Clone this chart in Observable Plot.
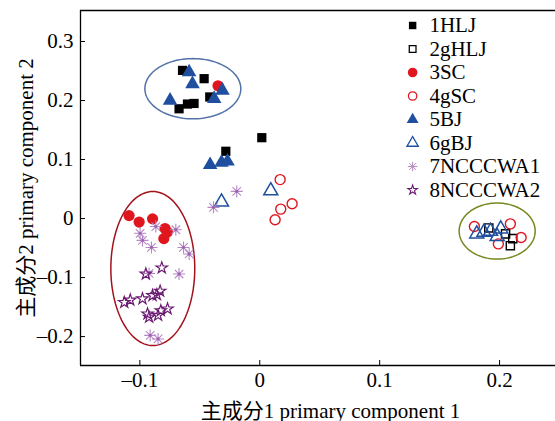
<!DOCTYPE html>
<html>
<head>
<meta charset="utf-8">
<script src="https://cdn.jsdelivr.net/npm/d3@7"></script>
<script src="https://cdn.jsdelivr.net/npm/@observablehq/plot@0.6"></script>
<style>
  html, body { margin: 0; padding: 0; background: #fff; }
  #chart svg, #chart svg text { font-family: "Liberation Serif", "Times New Roman", Times, "DejaVu Serif", "Noto Sans CJK SC", serif !important; }
</style>
</head>
<body>
<div id="chart"></div>
<script>
// ---- data (principal component scores) ----
const groups = ["1HLJ", "2gHLJ", "3SC", "4gSC", "5BJ", "6gBJ", "7NCCCWA1", "8NCCCWA2"];

const hlj1 = [[-0.0644,0.251],[-0.0464,0.237],[-0.0417,0.206],[-0.0673,0.186],[-0.0603,0.194],[-0.0548,0.195],[-0.0283,0.114],[0.0017,0.137]];
const ghlj2 = [[0.191,-0.016],[0.205,-0.026],[0.211,-0.034],[0.209,-0.046]];
const sc3 = [[-0.0348,0.225],[-0.109,0.005],[-0.1006,-0.006],[-0.0894,-0.0005],[-0.079,-0.017],[-0.077,-0.023],[-0.080,-0.034]];
const gsc4 = [[0.017,0.066],[0.027,0.025],[0.0175,0.016],[0.0128,-0.002],[0.179,-0.0136],[0.209,-0.009],[0.218,-0.032],[0.199,-0.043]];
const bj5 = [[-0.0589,0.248],[-0.0561,0.228],[-0.0311,0.217],[-0.038,0.203],[-0.0748,0.200],[-0.0414,0.091],[-0.0319,0.095],[-0.0269,0.097]];
const gbj6 = [[0.0092,0.047],[-0.0319,0.028],[0.181,-0.026],[0.187,-0.023],[0.1925,-0.0215],[0.201,-0.0175],[0.198,-0.0305]];
const ncccwa1 = [[-0.0192,0.046],[-0.0386,0.019],[-0.0998,-0.025],[-0.0978,-0.037],[-0.0903,-0.049],[-0.0867,-0.0136],[-0.070,-0.019],[-0.0636,-0.049],[-0.0589,-0.060],[-0.0673,-0.094],[-0.0923,-0.093],[-0.0914,-0.198],[-0.0848,-0.204]];
const ncccwa2 = [[-0.0817,-0.0836],[-0.095,-0.094],[-0.113,-0.142],[-0.108,-0.138],[-0.0978,-0.136],[-0.0894,-0.1305],[-0.0858,-0.129],[-0.0831,-0.123],[-0.0825,-0.156],[-0.0769,-0.153],[-0.0848,-0.164],[-0.0923,-0.167],[-0.0936,-0.1615]];

const xTicks = [-0.1, 0, 0.1, 0.2];
const yTicks = [-0.2, -0.1, 0, 0.1, 0.2, 0.3];

// cluster ellipses: [cx, cy, rx, ry, colour]
const ellipses = [
  [-0.0558, 0.220, 0.040, 0.051, "#5272a8"],
  [-0.0892, -0.0847, 0.035, 0.1305, "#a3121c"],
  [0.198, -0.0212, 0.0317, 0.0475, "#73891f"]
];

// ---- styles ----
const asterisk = {
  draw(context, size) {
    const r = Math.sqrt(size / Math.PI);
    for (let k = 0; k < 4; ++k) {
      const a = k * Math.PI / 4;
      const dx = r * Math.cos(a), dy = r * Math.sin(a);
      context.moveTo(-dx, -dy);
      context.lineTo(dx, dy);
    }
  }
};
const styles = {
  "1HLJ":     {symbol: "square",   fill: "#000", stroke: "none", r: 5.2, lr: 4.2, sw: 1.4},
  "2gHLJ":    {symbol: "square",   fill: "none", stroke: "#000", r: 4.6, lr: 3.8, sw: 1.4},
  "3SC":      {symbol: "circle",   fill: "#e0161f", stroke: "none", r: 5.6, lr: 4.8, sw: 1.4},
  "4gSC":     {symbol: "circle",   fill: "none", stroke: "#e0161f", r: 5.0, lr: 4.2, sw: 1.4},
  "5BJ":      {symbol: "triangle", fill: "#1f4f9e", stroke: "none", r: 5.4, lr: 4.4, sw: 1.4},
  "6gBJ":     {symbol: "triangle", fill: "none", stroke: "#1f4f9e", r: 5.2, lr: 4.2, sw: 1.5},
  "7NCCCWA1": {symbol: asterisk,   fill: "none", stroke: "#b688c6", r: 6.0, lr: 4.8, sw: 1.1},
  "8NCCCWA2": {symbol: "star",     fill: "none", stroke: "#6b1a72", r: 3.6, lr: 3.0, sw: 1.2}
};

const series = [hlj1, ghlj2, sc3, gsc4, bj5, gbj6, ncccwa1, ncccwa2];
const points = series.flatMap((arr, i) => arr.map(([x, y]) => ({group: groups[i], x, y})));

// ellipse outlines
const ellipsePaths = ellipses.flatMap(([cx, cy, rx, ry, c], k) =>
  d3.range(0, 361, 3).map(t => ({k, c, x: cx + rx * Math.cos(t * Math.PI / 180), y: cy + ry * Math.sin(t * Math.PI / 180)})));

// legend layout (data units)
const xDomain = [-0.1495, 0.2675];
const yDomain = [-0.249, 0.3525];
const legSymX = 0.1275, legTxtX = 0.1415;
const legend = groups.map((g, i) => ({group: g, y: (218 - (25 + 23.5 * i)) / 590}));

const font = "'Liberation Serif', 'Times New Roman', 'DejaVu Serif', 'Noto Sans CJK SC', serif";
const marks = [
  Plot.ruleX([xDomain[0]], {stroke: "#000", strokeWidth: 1.3}),
  Plot.ruleY([yDomain[0]], {stroke: "#000", strokeWidth: 1.3}),
  Plot.ruleY([yDomain[1]], {stroke: "#000", strokeWidth: 1.3}),
  Plot.line(ellipsePaths, {x: "x", y: "y", z: "k", stroke: "c", strokeWidth: 1.5}),
];
for (const g of groups) {
  const s = styles[g];
  const data = points.filter(d => d.group === g);
  marks.push(Plot.dot(data, {x: "x", y: "y", symbol: () => s.symbol, r: s.r, fill: s.fill, stroke: s.stroke, strokeWidth: s.sw}));
  if (g === "7NCCCWA1") marks.push(Plot.dot(data, {x: "x", y: "y", r: 1.4, fill: "#9a5fae"}));
  const ld = legend.filter(d => d.group === g);
  marks.push(Plot.dot(ld, {x: () => legSymX, y: "y", symbol: () => s.symbol, r: s.lr, fill: s.fill, stroke: s.stroke, strokeWidth: s.sw * 0.9}));
}
marks.push(Plot.text(legend, {x: () => legTxtX, y: "y", text: "group", textAnchor: "start", fontSize: 21, fill: "#000", fontFamily: font}));

const fmt = d => d === 0 ? "0" : (d < 0 ? "\u2013" : "") + Math.abs(d).toFixed(1);
marks.push(Plot.axisX({ticks: xTicks, tickSize: -5, tickPadding: 12, tickFormat: fmt, fontFamily: font,
  label: "主成分1 primary component 1", labelAnchor: "center", labelArrow: "none", labelOffset: 52, fontSize: 21}));
marks.push(Plot.axisY({ticks: yTicks, tickSize: -5, tickPadding: 12, tickFormat: fmt, fontFamily: font,
  label: "主成分2 primary component 2", labelAnchor: "center", labelArrow: "none", labelOffset: 62, fontSize: 21}));

const chart = Plot.plot({
  width: 555,
  height: 421,
  marginLeft: 80,
  marginRight: -25,
  marginTop: 10,
  marginBottom: 56,
  x: {domain: xDomain},
  y: {domain: yDomain},
  style: {fontFamily: font, fontSize: "21px", color: "#000", background: "#fff", overflow: "hidden"},
  marks
});
document.getElementById("chart").appendChild(chart);
</script>
</body>
</html>
